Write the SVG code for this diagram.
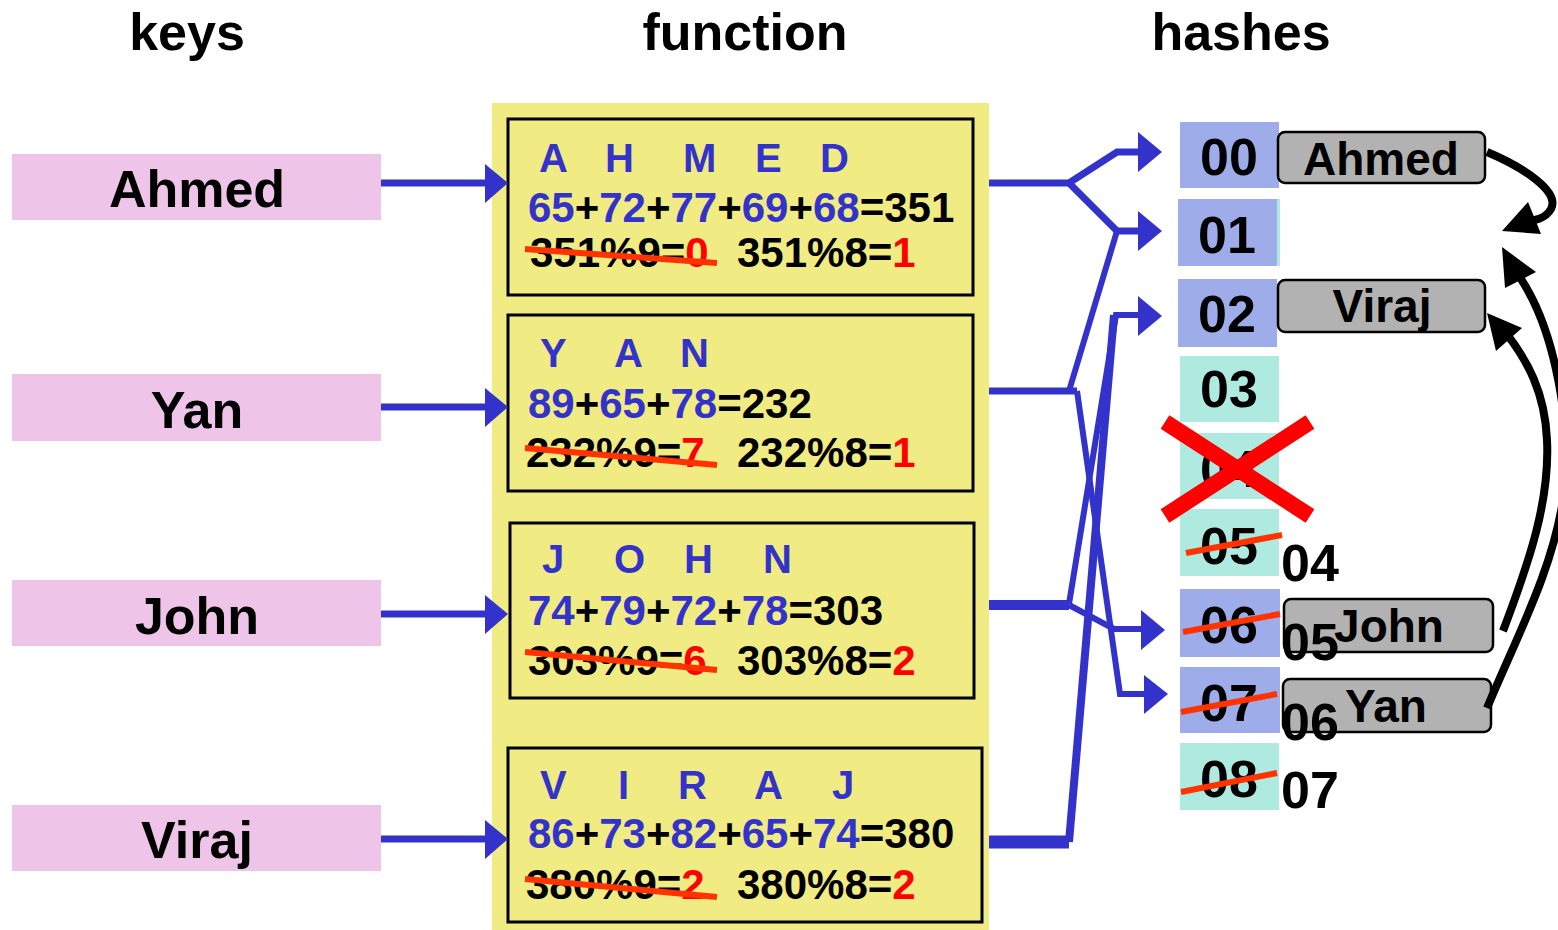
<svg xmlns="http://www.w3.org/2000/svg" width="1558" height="930" viewBox="0 0 1558 930">
<style>
text{font-family:"Liberation Sans",Arial,sans-serif;font-weight:bold}
.h{font-size:52px;fill:#000;text-anchor:middle}
.key{fill:#EEC5E8}
.kt{font-size:52px;fill:#000;text-anchor:middle}
.fb{fill:none;stroke:#000;stroke-width:3}
.let{font-size:40px;fill:#3333CC}
.row{font-size:42px;fill:#000}
.b{fill:#3333CC}
.r{fill:#FF0000}
.strike{stroke:#FF3300;stroke-width:6;stroke-linecap:butt}
.blue{fill:#9EADEA}
.teal{fill:#AEEAE0}
.ht{font-size:52px;fill:#000;text-anchor:middle}
.gb{fill:#B2B2B2;stroke:#000;stroke-width:2.5}
.gt{font-size:46px;fill:#000;text-anchor:middle}
.el{font-size:52px;fill:#000}
.bl{stroke:#3333CC;fill:none;stroke-linejoin:miter}
.ah{fill:#3333CC}
.bk{stroke:#000;stroke-width:8;fill:none}
</style>

<g id="headings">
<text class="h" x="187" y="50">keys</text>
<text class="h" x="745" y="50">function</text>
<text class="h" x="1241" y="50">hashes</text>
</g>

<rect id="function-bg" x="492" y="103" width="497" height="827" fill="#F0EB82"/>

<g id="key-ahmed"><rect class="key" x="12" y="154" width="369" height="66"/><text class="kt" x="197" y="207">Ahmed</text></g>
<g id="key-yan"><rect class="key" x="12" y="374" width="369" height="67"/><text class="kt" x="197" y="428">Yan</text></g>
<g id="key-john"><rect class="key" x="12" y="580" width="369" height="66"/><text class="kt" x="197" y="634">John</text></g>
<g id="key-viraj"><rect class="key" x="12" y="805" width="369" height="66"/><text class="kt" x="197" y="858">Viraj</text></g>

<g id="fn-ahmed">
<rect class="fb" x="508" y="119" width="465" height="176"/>
<text class="let" y="172"><tspan x="539">A</tspan><tspan x="605">H</tspan><tspan x="683">M</tspan><tspan x="755">E</tspan><tspan x="820">D</tspan></text>
<text class="row" x="528" y="222"><tspan class="b">65</tspan>+<tspan class="b">72</tspan>+<tspan class="b">77</tspan>+<tspan class="b">69</tspan>+<tspan class="b">68</tspan>=351</text>
<text class="row" x="530" y="267">351%9=<tspan class="r">0</tspan></text>
<text class="row" x="737" y="267">351%8=<tspan class="r">1</tspan></text>
<line class="strike" x1="525" y1="249" x2="717" y2="263"/>
</g>

<g id="fn-yan">
<rect class="fb" x="508" y="315" width="465" height="176"/>
<text class="let" y="367"><tspan x="540">Y</tspan><tspan x="614">A</tspan><tspan x="680">N</tspan></text>
<text class="row" x="528" y="418"><tspan class="b">89</tspan>+<tspan class="b">65</tspan>+<tspan class="b">78</tspan>=232</text>
<text class="row" x="526" y="467">232%9=<tspan class="r">7</tspan></text>
<text class="row" x="737" y="467">232%8=<tspan class="r">1</tspan></text>
<line class="strike" x1="525" y1="448" x2="717" y2="465"/>
</g>

<g id="fn-john">
<rect class="fb" x="510" y="523" width="464" height="175"/>
<text class="let" y="573"><tspan x="542">J</tspan><tspan x="614">O</tspan><tspan x="684">H</tspan><tspan x="763">N</tspan></text>
<text class="row" x="528" y="625"><tspan class="b">74</tspan>+<tspan class="b">79</tspan>+<tspan class="b">72</tspan>+<tspan class="b">78</tspan>=303</text>
<text class="row" x="528" y="675">303%9=<tspan class="r">6</tspan></text>
<text class="row" x="737" y="675">303%8=<tspan class="r">2</tspan></text>
<line class="strike" x1="525" y1="652" x2="717" y2="670"/>
</g>

<g id="fn-viraj">
<rect class="fb" x="508" y="748" width="474" height="174"/>
<text class="let" y="799"><tspan x="540">V</tspan><tspan x="618">I</tspan><tspan x="678">R</tspan><tspan x="754">A</tspan><tspan x="832">J</tspan></text>
<text class="row" x="528" y="848"><tspan class="b">86</tspan>+<tspan class="b">73</tspan>+<tspan class="b">82</tspan>+<tspan class="b">65</tspan>+<tspan class="b">74</tspan>=380</text>
<text class="row" x="526" y="899">380%9=<tspan class="r">2</tspan></text>
<text class="row" x="737" y="899">380%8=<tspan class="r">2</tspan></text>
<line class="strike" x1="525" y1="879" x2="717" y2="897"/>
</g>

<g id="hash-cells">
<g id="h00"><rect class="blue" x="1180" y="122" width="99" height="66"/><text class="ht" x="1229" y="175">00</text></g>
<g id="h01"><rect class="teal" x="1180" y="199" width="100" height="67"/><rect class="blue" x="1178" y="199" width="99" height="67"/><text class="ht" x="1227" y="253">01</text></g>
<g id="h02"><rect class="blue" x="1178" y="279" width="99" height="68"/><text class="ht" x="1227" y="332">02</text></g>
<g id="h03"><rect class="teal" x="1180" y="356" width="99" height="66"/><text class="ht" x="1229" y="407">03</text></g>
<g id="h04"><rect class="teal" x="1180" y="433" width="99" height="66"/><text class="ht" x="1229" y="487">04</text></g>
<g id="h05"><rect class="teal" x="1180" y="509" width="99" height="67"/><text class="ht" x="1229" y="564">05</text><line class="strike" x1="1186" y1="553" x2="1282" y2="535"/></g>
<g id="h06"><rect class="blue" x="1180" y="589" width="100" height="68"/><text class="ht" x="1229" y="643">06</text><line class="strike" x1="1183" y1="632" x2="1280" y2="614"/></g>
<g id="h07"><rect class="blue" x="1180" y="667" width="100" height="66"/><text class="ht" x="1229" y="721">07</text><line class="strike" x1="1181" y1="712" x2="1277" y2="694"/></g>
<g id="h08"><rect class="teal" x="1180" y="743" width="99" height="67"/><text class="ht" x="1229" y="797">08</text><line class="strike" x1="1181" y1="792" x2="1277" y2="773"/></g>
</g>

<g id="cross">
<line x1="1165" y1="422" x2="1310" y2="516" stroke="#FF0000" stroke-width="16"/>
<line x1="1165" y1="516" x2="1310" y2="422" stroke="#FF0000" stroke-width="16"/>
</g>

<g id="entry-ahmed"><rect class="gb" x="1278" y="132" width="207" height="51" rx="7"/><text class="gt" x="1381" y="175">Ahmed</text></g>
<g id="entry-viraj"><rect class="gb" x="1278" y="280" width="207" height="52" rx="7"/><text class="gt" x="1382" y="322">Viraj</text></g>
<g id="entry-john"><rect class="gb" x="1284" y="599" width="209" height="53" rx="7"/><text class="gt" x="1389" y="642">John</text></g>
<g id="entry-yan"><rect class="gb" x="1283" y="679" width="208" height="53" rx="7"/><text class="gt" x="1386" y="722">Yan</text></g>

<g id="new-labels">
<text class="el" x="1281" y="581">04</text>
<text class="el" x="1281" y="660">05</text>
<text class="el" x="1281" y="740">06</text>
<text class="el" x="1281" y="808">07</text>
</g>

<g id="connectors">
<!-- key arrows -->
<line class="bl" x1="381" y1="183" x2="487" y2="183" stroke-width="7"/>
<polygon class="ah" points="485,164 508,183 485,203"/>
<line class="bl" x1="381" y1="407" x2="487" y2="407" stroke-width="7"/>
<polygon class="ah" points="485,388 508,407 485,427"/>
<line class="bl" x1="381" y1="614" x2="487" y2="614" stroke-width="7"/>
<polygon class="ah" points="485,595 508,614 485,634"/>
<line class="bl" x1="381" y1="839" x2="487" y2="839" stroke-width="7"/>
<polygon class="ah" points="485,820 508,839 485,859"/>

<!-- Ahmed -->
<polyline class="bl" points="989,183 1069,183 1117,152 1140,152" stroke-width="7"/>
<polyline class="bl" points="1069,183 1117,231 1140,231" stroke-width="7"/>
<polygon class="ah" points="1138,132 1162,152 1138,172"/>
<polygon class="ah" points="1138,211 1162,231 1138,251"/>
<!-- Yan -->
<polyline class="bl" points="989,391 1077,391" stroke-width="7"/>
<polyline class="bl" points="1069,391 1117,231" stroke-width="6"/>
<polyline class="bl" points="1077,391 1120,694 1146,694" stroke-width="6"/>
<polygon class="ah" points="1144,675 1168,694 1144,714"/>
<!-- John -->
<polyline class="bl" points="989,605 1069,605" stroke-width="10"/>
<polyline class="bl" points="1069,604 1116,315 1140,315" stroke-width="6"/>
<polyline class="bl" points="1069,605 1114,629 1143,629" stroke-width="6"/>
<polygon class="ah" points="1141,610 1165,630 1141,650"/>
<!-- Viraj -->
<polyline class="bl" points="989,842 1069,842" stroke-width="13"/>
<polyline class="bl" points="1069,842 1114,315" stroke-width="8"/>
<polygon class="ah" points="1138,296 1162,316 1138,336"/>

<!-- chain arrows -->
<path class="bk" d="M1487,152 C1525,168 1560,192 1551,209 C1546,218 1534,222 1522,221"/>
<polygon points="1502,231 1528,202 1541,234" fill="#000"/>
<path class="bk" d="M1487,708 C1520,630 1552,570 1563,500 C1573,430 1556,330 1519,276"/>
<polygon points="1502,247 1505,288 1536,272" fill="#000"/>
<path class="bk" d="M1503,631 C1530,560 1550,500 1547,440 C1545,392 1527,360 1506,333"/>
<polygon points="1487,313 1496,351 1522,328" fill="#000"/>
</g>
</svg>
